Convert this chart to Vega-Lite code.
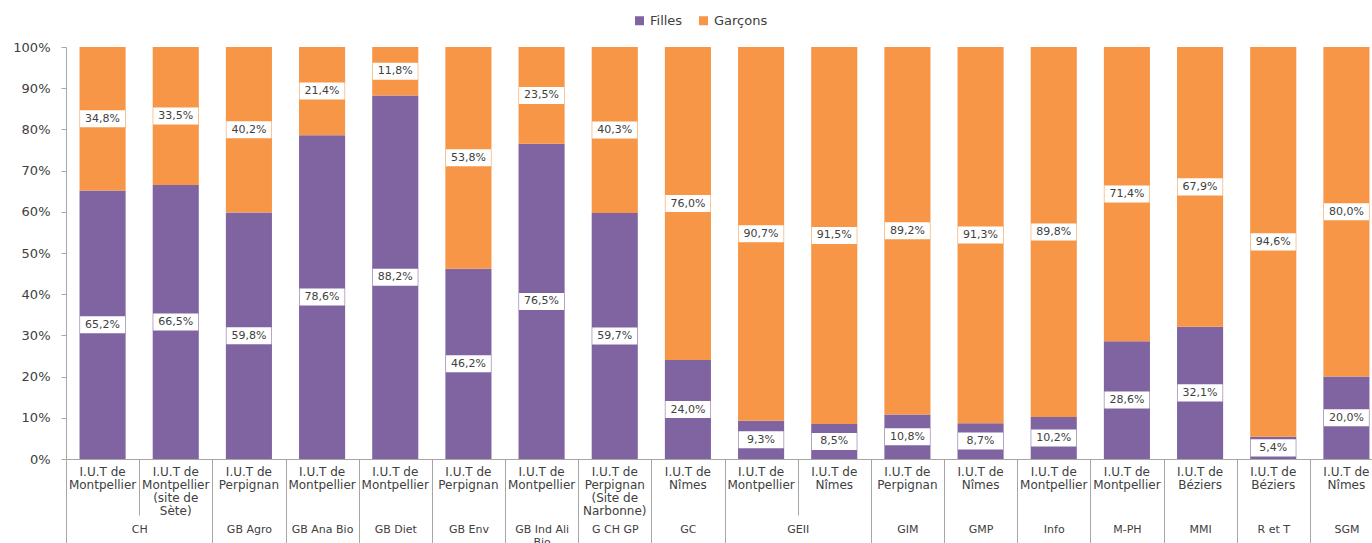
{
  "$schema": "https://vega.github.io/schema/vega-lite/v6.json",
  "autosize": {"type": "none"},
  "padding": {"left": 66, "top": 47, "right": 0, "bottom": 84},
  "width": 1306,
  "height": 412,
  "background": "white",
  "config": {
    "view": {"stroke": null},
    "font": "DejaVu Sans",
    "axis": {"grid": false, "labelFont": "DejaVu Sans", "labelColor": "#404040", "domainColor": "#A6A6A6", "tickColor": "#A6A6A6", "title": null},
    "legend": {"labelFont": "DejaVu Sans"},
    "locale": {"number": {"decimal": ",", "thousands": " ", "grouping": [3], "currency": ["", " €"]}}
  },
  "data": {"values": [
    {"n": 1, "key": "1|I.U.T de|Montpellier", "dept": "CH", "sex": "Filles", "value": 0.652},
    {"n": 1, "key": "1|I.U.T de|Montpellier", "dept": "CH", "sex": "Garçons", "value": 0.348},
    {"n": 2, "key": "2|I.U.T de|Montpellier|(site de|Sète)", "dept": "CH", "sex": "Filles", "value": 0.665},
    {"n": 2, "key": "2|I.U.T de|Montpellier|(site de|Sète)", "dept": "CH", "sex": "Garçons", "value": 0.335},
    {"n": 3, "key": "3|I.U.T de|Perpignan", "dept": "GB Agro", "sex": "Filles", "value": 0.598},
    {"n": 3, "key": "3|I.U.T de|Perpignan", "dept": "GB Agro", "sex": "Garçons", "value": 0.402},
    {"n": 4, "key": "4|I.U.T de|Montpellier", "dept": "GB Ana Bio", "sex": "Filles", "value": 0.786},
    {"n": 4, "key": "4|I.U.T de|Montpellier", "dept": "GB Ana Bio", "sex": "Garçons", "value": 0.214},
    {"n": 5, "key": "5|I.U.T de|Montpellier", "dept": "GB Diet", "sex": "Filles", "value": 0.882},
    {"n": 5, "key": "5|I.U.T de|Montpellier", "dept": "GB Diet", "sex": "Garçons", "value": 0.118},
    {"n": 6, "key": "6|I.U.T de|Perpignan", "dept": "GB Env", "sex": "Filles", "value": 0.462},
    {"n": 6, "key": "6|I.U.T de|Perpignan", "dept": "GB Env", "sex": "Garçons", "value": 0.538},
    {"n": 7, "key": "7|I.U.T de|Montpellier", "dept": "GB Ind Ali Bio", "sex": "Filles", "value": 0.765},
    {"n": 7, "key": "7|I.U.T de|Montpellier", "dept": "GB Ind Ali Bio", "sex": "Garçons", "value": 0.235},
    {"n": 8, "key": "8|I.U.T de|Perpignan|(Site de|Narbonne)", "dept": "G CH GP", "sex": "Filles", "value": 0.597},
    {"n": 8, "key": "8|I.U.T de|Perpignan|(Site de|Narbonne)", "dept": "G CH GP", "sex": "Garçons", "value": 0.403},
    {"n": 9, "key": "9|I.U.T de|Nîmes", "dept": "GC", "sex": "Filles", "value": 0.240},
    {"n": 9, "key": "9|I.U.T de|Nîmes", "dept": "GC", "sex": "Garçons", "value": 0.760},
    {"n": 10, "key": "10|I.U.T de|Montpellier", "dept": "GEII", "sex": "Filles", "value": 0.093},
    {"n": 10, "key": "10|I.U.T de|Montpellier", "dept": "GEII", "sex": "Garçons", "value": 0.907},
    {"n": 11, "key": "11|I.U.T de|Nîmes", "dept": "GEII", "sex": "Filles", "value": 0.085},
    {"n": 11, "key": "11|I.U.T de|Nîmes", "dept": "GEII", "sex": "Garçons", "value": 0.915},
    {"n": 12, "key": "12|I.U.T de|Perpignan", "dept": "GIM", "sex": "Filles", "value": 0.108},
    {"n": 12, "key": "12|I.U.T de|Perpignan", "dept": "GIM", "sex": "Garçons", "value": 0.892},
    {"n": 13, "key": "13|I.U.T de|Nîmes", "dept": "GMP", "sex": "Filles", "value": 0.087},
    {"n": 13, "key": "13|I.U.T de|Nîmes", "dept": "GMP", "sex": "Garçons", "value": 0.913},
    {"n": 14, "key": "14|I.U.T de|Montpellier", "dept": "Info", "sex": "Filles", "value": 0.102},
    {"n": 14, "key": "14|I.U.T de|Montpellier", "dept": "Info", "sex": "Garçons", "value": 0.898},
    {"n": 15, "key": "15|I.U.T de|Montpellier", "dept": "M-PH", "sex": "Filles", "value": 0.286},
    {"n": 15, "key": "15|I.U.T de|Montpellier", "dept": "M-PH", "sex": "Garçons", "value": 0.714},
    {"n": 16, "key": "16|I.U.T de|Béziers", "dept": "MMI", "sex": "Filles", "value": 0.321},
    {"n": 16, "key": "16|I.U.T de|Béziers", "dept": "MMI", "sex": "Garçons", "value": 0.679},
    {"n": 17, "key": "17|I.U.T de|Béziers", "dept": "R et T", "sex": "Filles", "value": 0.054},
    {"n": 17, "key": "17|I.U.T de|Béziers", "dept": "R et T", "sex": "Garçons", "value": 0.946},
    {"n": 18, "key": "18|I.U.T de|Nîmes", "dept": "SGM", "sex": "Filles", "value": 0.200},
    {"n": 18, "key": "18|I.U.T de|Nîmes", "dept": "SGM", "sex": "Garçons", "value": 0.800}
  ]},
  "layer": [
    {
      "transform": [
        {"stack": "value", "groupby": ["key"], "sort": [{"field": "sex", "order": "ascending"}], "as": ["v0", "v1"]},
        {"calculate": "(datum.v0 + datum.v1) / 2", "as": "mid"}
      ],
      "encoding": {
        "x": {
          "field": "key", "type": "nominal", "sort": null,
          "scale": {"range": [0, 1317], "paddingInner": 0.37, "paddingOuter": 0.185},
          "axis": {
            "orient": "bottom",
            "labelExpr": "slice(split(datum.value, '|'), 1)",
            "labelAngle": 0, "labelFontSize": 12, "labelLineHeight": 13,
            "labelPadding": 7, "labelBaseline": "top",
            "ticks": false, "tickSize": 0, "domain": true, "domainColor": "#A6A6A6"
          }
        }
      },
      "layer": [
        {
          "mark": {"type": "bar"},
          "encoding": {
            "y": {"field": "v0", "type": "quantitative", "scale": {"domain": [0, 1], "nice": false},
              "axis": {"values": [0, 0.1, 0.2, 0.3, 0.4, 0.5, 0.6, 0.7, 0.8, 0.9, 1], "format": ".0%", "labelFontSize": 13, "tickSize": 5, "labelPadding": 11}},
            "y2": {"field": "v1"},
            "color": {"field": "sex", "type": "nominal",
              "scale": {"domain": ["Filles", "Garçons"], "range": ["#8064A2", "#F79646"]},
              "legend": {"title": null, "orient": "none", "direction": "horizontal", "legendX": 567, "legendY": -33,
                "symbolType": "square", "symbolSize": 81, "symbolStrokeWidth": 0, "labelFontSize": 13, "labelColor": "#404040",
                "labelOffset": 4, "columnPadding": 14, "padding": 0}}
          }
        },
        {
          "mark": {"type": "point", "shape": "M-1,-0.378H1V0.378H-1Z", "filled": true, "fill": "white", "opacity": 1, "stroke": "white", "strokeOpacity": 0, "strokeWidth": 0, "size": 2025},
          "encoding": {"y": {"field": "mid", "type": "quantitative"}}
        },
        {
          "mark": {"type": "text", "font": "DejaVu Sans", "fontSize": 11, "color": "#404040", "baseline": "middle", "align": "center"},
          "encoding": {
            "y": {"field": "mid", "type": "quantitative"},
            "text": {"field": "value", "type": "quantitative", "format": ".1%"}
          }
        }
      ]
    },
    {
      "mark": {"type": "rule", "opacity": 0},
      "encoding": {
        "x": {"field": "n", "type": "quantitative",
          "scale": {"domain": [0, 18], "range": [0, 1317], "nice": false, "zero": false},
          "axis": {"orient": "bottom", "values": [0, 2, 3, 4, 5, 6, 7, 8, 9, 11, 12, 13, 14, 15, 16, 17, 18],
            "labels": false, "domain": false, "ticks": true, "tickSize": 84, "tickColor": "#A6A6A6"}}
      }
    },
    {
      "mark": {"type": "rule", "opacity": 0},
      "encoding": {
        "x": {"field": "n", "type": "quantitative",
          "scale": {"domain": [0, 18], "range": [0, 1317], "nice": false, "zero": false},
          "axis": {"orient": "bottom", "values": [1, 2.5, 3.5, 4.5, 5.5, 6.5, 7.5, 8.5, 10, 11.5, 12.5, 13.5, 14.5, 15.5, 16.5, 17.5],
            "labelExpr": "split(({'1':'CH','2.5':'GB Agro','3.5':'GB Ana Bio','4.5':'GB Diet','5.5':'GB Env','6.5':'GB Ind Ali|Bio','7.5':'G CH GP','8.5':'GC','10':'GEII','11.5':'GIM','12.5':'GMP','13.5':'Info','14.5':'M-PH','15.5':'MMI','16.5':'R et T','17.5':'SGM'})[datum.value], '|')",
            "labelFontSize": 11, "labelLineHeight": 13, "labelPadding": 8, "labelBaseline": "top",
            "labelFlush": false, "labelOverlap": false, "labelBound": false,
            "domain": false, "ticks": true, "tickSize": 56, "tickColor": "#A6A6A6",
            "tickOpacity": {"condition": {"test": "datum.value == 1 || datum.value == 10", "value": 1}, "value": 0}}}
      }
    }
  ],
  "resolve": {"scale": {"x": "independent"}, "axis": {"x": "independent"}}
}
